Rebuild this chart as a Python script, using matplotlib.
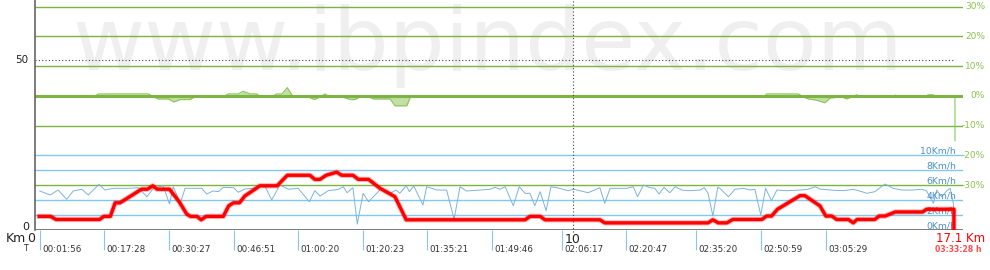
import matplotlib
matplotlib.use("Agg")
import matplotlib.pyplot as plt
import matplotlib.transforms as mtransforms

# elevation profile (m) along the track (km)
elev_km = [0.08, 0.29, 0.39, 1.20, 1.28, 1.40, 1.49, 1.58, 1.98, 2.09, 2.19, 2.27, 2.50,
           2.68, 2.82, 2.89, 3.01, 3.09, 3.18, 3.50, 3.60, 3.69, 3.80, 3.90, 4.18, 4.50,
           4.69, 5.11, 5.20, 5.30, 5.41, 5.61, 5.70, 5.91, 6.01, 6.20, 6.41, 6.69, 6.78,
           6.90, 9.11, 9.20, 9.39, 9.48, 10.50, 10.59, 12.51, 12.60, 12.70, 12.86, 12.97,
           13.51, 13.60, 13.69, 13.80, 14.22, 14.31, 14.59, 14.70, 14.81, 14.90, 15.12,
           15.21, 15.28, 15.61, 15.69, 15.80, 15.99, 16.50, 16.57, 17.08, 17.08]
elev_m = [4.0, 4.0, 3.1, 3.1, 4.0, 4.0, 8.0, 8.0, 12.0, 12.0, 13.0, 12.0, 12.0,
          8.3, 4.7, 4.0, 4.0, 3.0, 4.0, 4.0, 7.1, 8.0, 8.0, 10.0, 13.0, 13.0,
          16.1, 16.1, 14.9, 14.9, 16.1, 17.0, 16.1, 16.1, 14.9, 14.9, 12.3, 9.8, 6.9,
          3.0, 3.0, 4.0, 4.0, 3.0, 3.0, 2.1, 2.1, 3.0, 2.1, 2.1, 3.1,
          3.1, 4.1, 4.1, 6.1, 10.1, 10.1, 7.1, 4.1, 4.1, 3.1, 3.1,
          2.1, 3.1, 3.1, 4.1, 4.1, 5.3, 5.3, 6.1, 6.1, 0.0]

# speed (km/h)
speed_km = [0.09, 0.28, 0.43, 0.59, 0.71, 0.87, 0.99, 1.19, 1.30, 1.46, 1.73, 1.92, 2.08,
            2.20, 2.38, 2.50, 2.57, 2.70, 2.79, 3.10, 3.19, 3.31, 3.41, 3.50, 3.69, 3.78,
            3.90, 4.06, 4.18, 4.28, 4.40, 4.55, 4.71, 4.89, 5.10, 5.20, 5.30, 5.45, 5.64,
            5.73, 5.80, 5.91, 5.99, 6.07, 6.10, 6.20, 6.32, 6.44, 6.60, 6.71, 6.78, 6.90,
            6.96, 7.04, 7.21, 7.28, 7.47, 7.65, 7.79, 7.90, 8.02, 8.27, 8.46, 8.55, 8.64,
            8.74, 8.89, 9.00, 9.11, 9.20, 9.29, 9.39, 9.50, 9.59, 9.70, 9.91, 10.01, 10.13,
            10.28, 10.50, 10.59, 10.69, 11.00, 11.12, 11.20, 11.31, 11.43, 11.52, 11.60,
            11.69, 11.80, 11.90, 12.02, 12.17, 12.36, 12.44, 12.51, 12.60, 12.69, 12.73,
            12.89, 13.01, 13.17, 13.29, 13.38, 13.49, 13.58, 13.69, 13.79, 13.97, 14.22,
            14.37, 14.50, 14.59, 14.78, 15.02, 15.21, 15.37, 15.46, 15.61, 15.80, 15.95,
            16.11, 16.30, 16.48, 16.57, 16.70, 16.76, 16.85, 16.95, 17.01, 17.07, 17.08]
speed_kmh = [5.2, 4.67, 5.33, 4.09, 5.2, 5.43, 4.67, 6.09, 5.33, 5.56, 5.56, 5.64, 4.44,
             5.56, 5.91, 3.47, 5.77, 3.56, 5.56, 5.56, 4.8, 5.2, 5.11, 5.69, 5.64, 5.03,
             5.47, 5.56, 5.87, 5.77, 4.0, 6.0, 5.43, 5.56, 3.77, 5.24, 4.53, 5.24, 5.43,
             5.77, 4.97, 5.64, 0.8, 3.77, 4.89, 3.77, 4.67, 5.56, 4.89, 5.33, 4.89, 5.91,
             5.11, 5.87, 3.33, 5.77, 5.33, 5.33, 1.43, 5.77, 5.2, 5.33, 5.43, 5.69, 5.43,
             5.77, 3.24, 5.77, 4.89, 4.89, 3.24, 5.11, 2.57, 5.77, 5.64, 5.24, 5.43, 5.24,
             4.97, 5.64, 3.56, 5.56, 5.56, 5.77, 4.44, 6.0, 5.64, 5.56, 4.8,
             5.69, 4.97, 5.77, 5.33, 5.24, 5.33, 5.64, 4.89, 1.87, 5.69, 5.56,
             4.44, 5.43, 5.56, 5.33, 5.43, 2.0, 5.56, 3.91, 5.33, 5.24, 5.33,
             5.43, 5.77, 5.47, 5.33, 5.24, 5.43, 5.11, 4.89, 5.11, 6.13, 5.56,
             5.33, 5.33, 5.43, 5.24, 3.56, 5.33, 4.44, 5.24, 5.56, 3.56, 0.0]

# slope (%)
slope_km = [0.09, 1.08, 1.18, 2.11, 2.20, 2.29, 2.48, 2.58, 2.70, 2.88, 2.97, 3.50, 3.59,
            3.78, 3.87, 4.00, 4.12, 4.20, 4.40, 4.49, 4.59, 4.69, 4.80, 5.08, 5.19, 5.30,
            5.39, 5.48, 5.70, 5.86, 5.95, 6.04, 6.20, 6.29, 6.60, 6.69, 6.91, 6.98, 13.54,
            13.60, 14.19, 14.28, 14.37, 14.53, 14.68, 14.78, 14.99, 15.09, 15.18, 15.27,
            15.37, 15.92, 15.99, 16.05, 16.54, 16.60, 16.69, 16.76, 17.10, 17.10]
slope_pct = [-0.3, -0.3, 0.7, 0.7, -0.3, -1.0, -1.0, -2.0, -1.2, -1.2, -0.3, -0.3, 0.7,
             0.7, 1.6, 0.7, 0.7, -0.3, -0.3, 0.7, 0.7, 2.8, -0.3, -0.3, -1.2, -0.3,
             0.7, -0.3, -0.3, -1.2, -1.2, -0.3, -0.3, -1.0, -1.0, -3.3, -3.3, -0.3, -0.3,
             0.7, 0.7, -0.3, -1.0, -1.4, -2.3, -0.7, -0.3, -1.0, -0.3, 0.4,
             -0.3, -0.3, 0.3, -0.3, -0.3, 0.4, 0.4, -0.3, -0.3, -15.0]

tick_km = [0.10, 1.29, 2.50, 3.70, 4.89, 6.10, 7.29, 8.50, 9.80, 10.99, 12.29, 13.49, 14.70]
tick_labels = ["00:01:56", "00:17:28", "00:30:27", "00:46:51", "01:00:20", "01:20:23",
               "01:35:21", "01:49:46", "02:06:17", "02:20:47", "02:35:20", "02:50:59",
               "03:05:29"]

pct_levels = [30, 20, 10, 0, -10, -20, -30]
speed_levels = [0, 2, 4, 6, 8, 10]

W, H = 990, 270
fig = plt.figure(figsize=(9.9, 2.7), dpi=100)
pos = [35 / W, 40 / H, 928 / W, 230 / H]
xmax = 928 / 53.8

fig.text(72 / W, 1 - 70 / H, "www.ibpindex.com", fontsize=63.5, color="#efefef",
         va="baseline", ha="left", zorder=-1)

ax_slope = fig.add_axes(pos)
ax_speed = fig.add_axes(pos)
ax_elev = fig.add_axes(pos)
for a in (ax_slope, ax_speed, ax_elev):
    a.set_xlim(0, xmax)
    a.patch.set_visible(False)
    for s in a.spines.values():
        s.set_visible(False)
    a.set_xticks([])
    a.set_yticks([])

ax_slope.set_ylim(-44.97, 32.21)
ax_speed.set_ylim(0, 30.67)
ax_elev.set_ylim(0, 67.65)

# slope grid + curve (-20% sits under the 10 km/h line)
for p in pct_levels:
    if p == -20:
        continue
    ax_slope.axhline(p, color="#7cb342", lw=2.2 if p == 0 else 1.0, zorder=3 if p == 0 else 1)
ax_slope.fill_between(slope_km, slope_pct, 0, color="#c2e0a5", lw=0, zorder=2)
ax_slope.plot(slope_km, slope_pct, color="#8cc45a", lw=0.8, zorder=2)

tr_pct = mtransforms.blended_transform_factory(fig.transFigure, ax_slope.transData)
for p in pct_levels:
    ax_slope.text(985 / W, p, f"{p}%", transform=tr_pct, ha="right", va="center",
                  fontsize=6.5, color="#8cc152", clip_on=False)

# speed grid + curve (6 km/h sits under the -30% line)
for v in speed_levels:
    if v in (0, 6):
        continue
    ax_speed.axhline(v, color="#80c8f0", lw=1.0)
ax_speed.plot(speed_km, speed_kmh, color="#7ab4dd", lw=0.7)

tr_spd = mtransforms.blended_transform_factory(fig.transFigure, ax_speed.transData)
for v in speed_levels:
    ax_speed.text(956 / W, v + 0.15, f"{v}Km/h", transform=tr_spd, ha="right", va="baseline",
                  fontsize=6.7, color="#4a90c8", clip_on=False)

# axes lines, reference lines
ax_elev.axhline(0, color="#666666", lw=1.2)
ax_elev.spines["left"].set_visible(True)
ax_elev.spines["left"].set_color("#666666")
ax_elev.spines["left"].set_linewidth(1.2)
ax_elev.hlines(50, 0, 17.1, colors="#444444", linestyles=(0, (1, 2)), lw=0.8)
ax_elev.vlines(10, -0.6, 67.65, colors="#444444", linestyles=(0, (1, 2)), lw=0.8, clip_on=False)

# elevation
ax_elev.plot(elev_km, elev_m, color="#ff0000", lw=3.8, alpha=0.3, solid_joinstyle="round")
ax_elev.plot(elev_km, elev_m, color="#ff0000", lw=2.4, solid_joinstyle="round")

# time ticks
ax_elev.vlines(tick_km, -5.9, 0, colors="#8cc4ea", lw=0.8, clip_on=False)
for k, lab in zip(tick_km, tick_labels):
    ax_elev.text(k + 0.04, -5.6, lab, fontsize=6.3, va="center", ha="left", color="#333333",
                 clip_on=False)

tr_el = mtransforms.blended_transform_factory(fig.transFigure, ax_elev.transData)
ax_elev.text(28 / W, 50, "50", transform=tr_el, ha="right", va="center", fontsize=7.5,
             color="#222222")
ax_elev.text(29 / W, 0.9, "0", transform=tr_el, ha="right", va="center", fontsize=8,
             color="#222222")

fig.text(6 / W, 1 - 239 / H, "Km", fontsize=9, va="center", ha="left", color="#222222")
fig.text(35 / W, 1 - 239 / H, "0", fontsize=9, va="center", ha="right", color="#222222")
fig.text(26.5 / W, 1 - 248.5 / H, "T", fontsize=5.5, va="center", ha="center", color="#222222")
ax_elev.text(10, -2.65, "10", fontsize=9, va="center", ha="center", color="#222222", clip_on=False)

fig.text(936 / W, 1 - 238.5 / H, "17.1 Km", fontsize=8.5, va="center", ha="left", color="#ff0000")
fig.text(935 / W, 1 - 249 / H, "03:33:28 h", fontsize=5.6, fontweight="bold", va="center",
         ha="left", color="#ff4d4d")

fig.savefig("out.png", dpi=100)
